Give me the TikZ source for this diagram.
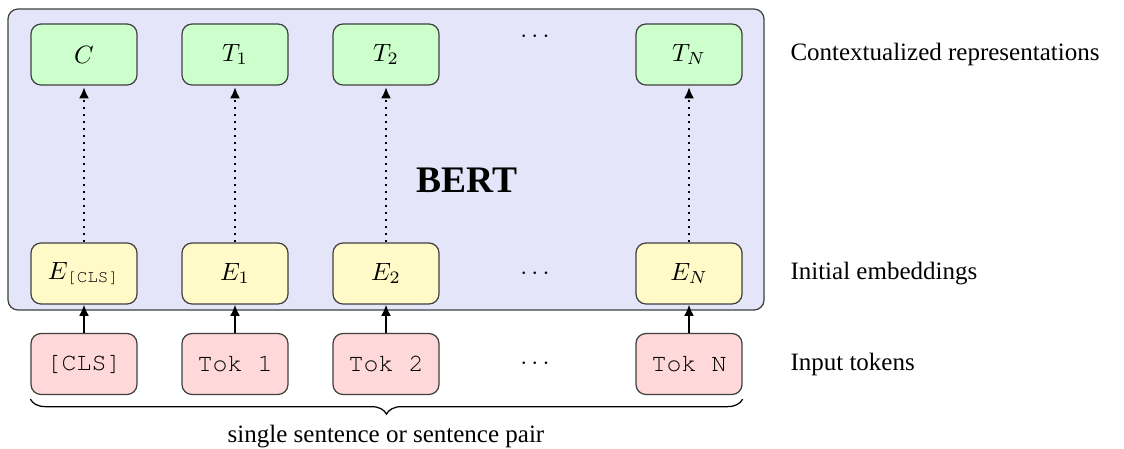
\documentclass[tikz,border=0pt]{standalone}
\usepackage{amsmath}
\usepackage[no-math]{fontspec}
\setmainfont{Liberation Serif}
\setmonofont{TeX Gyre Cursor}
\usetikzlibrary{arrows.meta,decorations.pathreplacing}
\definecolor{outgreen}{RGB}{204,255,204}
\definecolor{embyellow}{RGB}{255,250,200}
\definecolor{tokpink}{RGB}{255,217,217}
\definecolor{bertblue}{RGB}{229,229,250}
\tikzset{
  cell/.style={draw=black!75, line width=0.5pt, rounded corners=4pt,
    minimum width=42.4pt, minimum height=24.4pt, inner sep=0pt},
  outcell/.style={cell, fill=outgreen},
  embcell/.style={cell, fill=embyellow},
  tokcell/.style={cell, fill=tokpink, font=\ttfamily},
  bertbox/.style={draw=black!75, line width=0.5pt, rounded corners=4pt,
    fill=bertblue, minimum width=302.4pt, minimum height=120.4pt, inner sep=0pt},
  dotarrow/.style={dotted, thick, -{Latex[length=4.5pt,width=4pt]}},
  solidarrow/.style={thick, -{Latex[length=4.5pt,width=4pt]}},
  sidelabel/.style={anchor=west, inner sep=0pt},
  brace/.style={decorate, decoration={brace, mirror, amplitude=6pt}, line width=0.5pt}
}
\begin{document}
\begin{tikzpicture}[x=0.4pt,y=-0.4pt]
\useasboundingbox (0,0) rectangle (1124,448);
\node[bertbox] (box) at (386,159.5) {};
\node[font=\fontsize{15}{18}\selectfont\bfseries] (bert) at (467,180) {BERT};
% outputs
\node[outcell] (c)  at (84,54.5)  {$C$};
\node[outcell] (t1) at (235,54.5) {$T_1$};
\node[outcell] (t2) at (386,54.5) {$T_2$};
\node (tdots) at (537,37) {$\cdots$};
\node[outcell] (tn) at (689,54.5) {$T_N$};
% embeddings
\node[embcell] (ecls) at (84,273.5)  {$E_{\texttt{[CLS]}}$};
\node[embcell] (e1)   at (235,273.5) {$E_1$};
\node[embcell] (e2)   at (386,273.5) {$E_2$};
\node (edots) at (537,273.5) {$\cdots$};
\node[embcell] (en)   at (689,273.5) {$E_N$};
% tokens
\node[tokcell] (kcls) at (84,364)  {[CLS]};
\node[tokcell] (k1)   at (235,364) {Tok 1};
\node[tokcell] (k2)   at (386,364) {Tok 2};
\node (kdots) at (537,364) {$\cdots$};
\node[tokcell] (kn)   at (689,364) {Tok N};
% arrows
\foreach \a/\b in {ecls/c, e1/t1, e2/t2, en/tn}
  \draw[dotarrow] (\a.north) -- ([yshift=-0.6pt]\b.south);
\foreach \a/\b in {kcls/ecls, k1/e1, k2/e2, kn/en}
  \draw[solidarrow] (\a.north) -- (\b.south);
% brace
\coordinate (bl) at ([yshift=-1.6pt]kcls.south west);
\coordinate (br) at ([yshift=-1.6pt]kn.south east);
\draw[brace] (bl) -- (br);
\node (pair) at (386,437) {single sentence or sentence pair};
% side labels
\node[sidelabel] (lctx) at (790,54.5) {Contextualized representations};
\node[sidelabel] (lemb) at (790,273.5) {Initial embeddings};
\node[sidelabel] (ltok) at (790,364) {Input tokens};
\end{tikzpicture}
\end{document}
